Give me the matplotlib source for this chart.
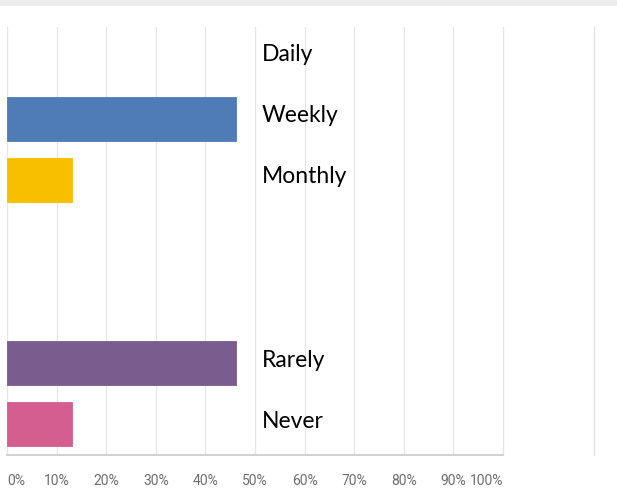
import matplotlib
matplotlib.use("Agg")
import matplotlib.pyplot as plt
from matplotlib.patches import Rectangle

# ── data ────────────────────────────────────────────────────────────────
categories = ["Daily", "Weekly", "Monthly", "", "", "Rarely", "Never"]
values     = [0, 46.2, 13.1, 0, 0, 46.2, 13.1]          # percent
colors     = ["#4F7CB6", "#4F7CB6", "#F7BF00", "#FFFFFF", "#FFFFFF",
              "#7B5C8E", "#D35E8F"]
tick_vals  = [0, 10, 20, 30, 40, 50, 60, 70, 80, 90, 100]
tick_text  = [f"{v}%" for v in tick_vals]

W, H = 617, 502
fig = plt.figure(figsize=(W / 100, H / 100), dpi=100)
fig.patch.set_facecolor("white")

# grey strip at the top of the screenshot
fig.patches.append(Rectangle((0, 1 - 7 / H), 1, 7 / H, transform=fig.transFigure,
                             facecolor="#ECECEC", edgecolor="none"))

ax = fig.add_axes([7 / W, 46 / H, (594 - 7) / W, (456 - 28) / H])
rows = list(range(len(categories)))
ax.barh(rows, values, height=0.72, color=colors,
        edgecolor=[c if v else "none" for c, v in zip(colors, values)],
        linewidth=0.6, zorder=3)

ax.set_ylim(len(categories) - 0.5, -0.5)
ax.set_xlim(0, (594 - 7) / 496 * 100)

# gridlines only between 0 and 100 %
for v in tick_vals:
    ax.axvline(v, color="#E6E6E6", linewidth=0.9, zorder=1)
ax.plot([0, 100], [len(categories) - 0.5] * 2, color="#C8C8C8",
        linewidth=1.2, zorder=4, clip_on=False)

# category labels
for r, name in zip(rows, categories):
    if name:
        ax.text(51.4, r - 0.07, name, fontsize=16.5, family="Lato",
                color="black", va="center", ha="left")

ax.set_yticks([])
ax.set_xticks(tick_vals)
labels = ax.set_xticklabels(tick_text, fontsize=10, color="#6E6E6E",
                            family="Roboto")
labels[0].set_ha("left")
labels[-1].set_ha("right")
ax.tick_params(axis="x", length=0, pad=13)

for s in ["top", "left", "bottom"]:
    ax.spines[s].set_visible(False)
ax.spines["right"].set_color("#E2E2E2")
ax.spines["right"].set_linewidth(1.0)

plt.savefig("out.png", dpi=100)
